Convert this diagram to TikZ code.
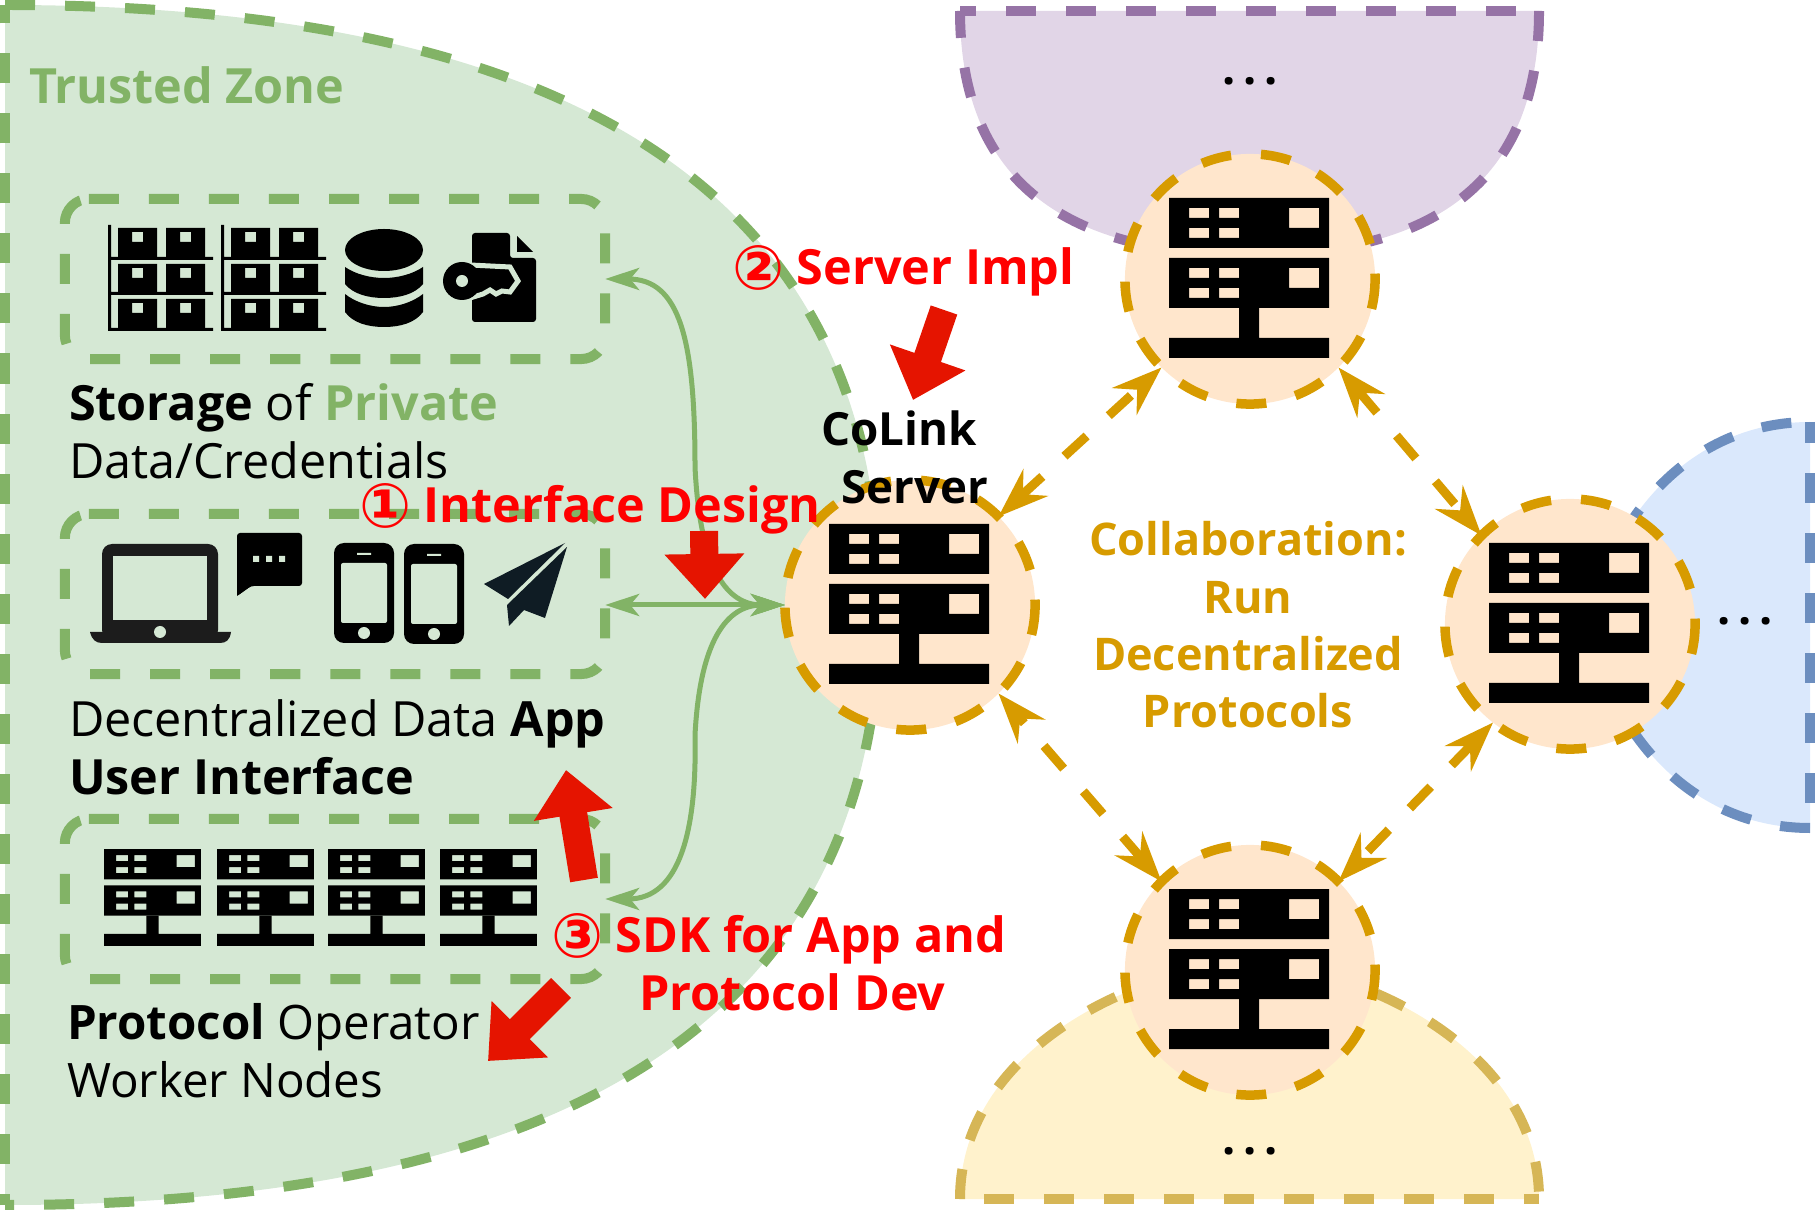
\documentclass[tikz,border=0pt]{standalone}
\usepackage{fontspec}
\setmainfont{Open Sans}
\newfontfamily\markfont{DejaVu Sans}
\usepackage{xcolor}
\usetikzlibrary{arrows.meta,positioning}
\definecolor{LinkGreen}{HTML}{82B366}
\definecolor{LinkGreenFill}{HTML}{D5E8D4}
\definecolor{LinkGold}{HTML}{D79B00}
\definecolor{LinkGoldFill}{HTML}{FFE6CC}
\definecolor{PeerPurple}{HTML}{9673A6}
\definecolor{PeerPurpleFill}{HTML}{E1D5E7}
\definecolor{PeerBlue}{HTML}{6C8EBF}
\definecolor{PeerBlueFill}{HTML}{DAE8FC}
\definecolor{PeerYellow}{HTML}{D6B656}
\definecolor{PeerYellowFill}{HTML}{FFF2CC}
\definecolor{PointerRed}{HTML}{E51400}
\definecolor{PlaneInk}{HTML}{0F1C24}
\definecolor{LaptopInk}{HTML}{1C1C1C}
\newcommand{\stepmark}[1]{\raisebox{-.05cm}{\markfont\fontsize{17.5}{17.5}\selectfont #1}}
\tikzset{
  dashline/.style={line width=.1cm,dash pattern=on .3cm off .3cm},
  zonebox/.style={minimum width=5.4cm,minimum height=1.6cm,inner sep=0,outer sep=0},
  boxedge/.style={LinkGreen,dashline,rounded corners=.24cm},
  serverball/.style={circle,fill=LinkGoldFill,draw=LinkGold,line width=.095cm,dash pattern=on .3cm off .3cm,dash phase=.246cm,minimum size=2.5cm,inner sep=0,outer sep=0},
  collab/.style={LinkGold,line width=.09cm,dash pattern=on .3cm off .3cm,{Stealth[length=.5cm,width=.36cm,inset=.17cm]}-{Stealth[length=.5cm,width=.36cm,inset=.17cm]}},
  applink/.style={LinkGreen,line width=.05cm,{Stealth[length=.34cm,width=.22cm,inset=.09cm]}-{Stealth[length=.34cm,width=.22cm,inset=.09cm]}},
  pointer/.style={PointerRed,line width=.28cm,-{Triangle[length=.45cm,width=.77cm]}},
  textline/.style={font=\fontsize{13.8}{16.5}\selectfont,align=left,inner sep=0,outer sep=0},
  boldline/.style={textline,font=\fontsize{13.8}{16.5}\selectfont\bfseries},
  redline/.style={boldline,red,anchor=west},
  dotline/.style={boldline,font=\fontsize{13.2}{16.5}\selectfont\bfseries},
  pics/servericon/.style={code={
    \fill[even odd rule] \foreach \y in {0,60} {
      (0,\y) rectangle ++(160,50)
      (20,\y+10) rectangle ++(20,10) (50,\y+10) rectangle ++(20,10)
      (20,\y+30) rectangle ++(20,10) (50,\y+30) rectangle ++(20,10)
      (120,\y+10) rectangle ++(30,20)};
    \fill (70,110) rectangle (90,140) (0,140) rectangle (160,160);
  }},
  pics/rackicon/.style={code={
    \fill (0,0) rectangle (3,106) (0,32) rectangle (105,35) (0,67) rectangle (105,70) (0,103) rectangle (105,106);
    \fill[even odd rule] \foreach \y in {3,39,74} {
      (10,\y) rectangle ++(39,29) (24,\y+4) rectangle ++(11,10)
      (58,\y) rectangle ++(39,29) (72,\y+4) rectangle ++(11,10)};
  }},
  pics/phoneicon/.style={code={
    \fill[rounded corners=.1cm] (0,0) rectangle (60,100);
    \fill[LinkGreenFill,rounded corners=.02cm] (7,20) rectangle (53,80);
    \fill[LinkGreenFill] (23,10) rectangle (37,12) (30,90) circle[radius=6];
  }}
}
\begin{document}
\begin{tikzpicture}[x=0.01cm,y=-0.01cm,>=Latex]
  \useasboundingbox (0,0) rectangle (1816,1210);
  % peers behind the servers
  \fill[PeerPurpleFill] (1539,11) .. controls (1539,174) and (1443,255) .. (1250,255) .. controls (1057,255) and (960,174) .. (960,11) -- cycle;
  \draw[PeerPurple,dashline] (1539,11) .. controls (1539,174) and (1443,255) .. (1250,255) .. controls (1057,255) and (960,174) .. (960,11);
  \draw[PeerPurple,dashline,dash phase=.14cm] (960,11) -- (1539,11);
  \fill[PeerYellowFill] (960,1199) .. controls (960,1042) and (1153,964) .. (1250,964) .. controls (1347,964) and (1539,1042) .. (1539,1199) -- cycle;
  \draw[PeerYellow,dashline] (960,1199) .. controls (960,1042) and (1153,964) .. (1250,964) .. controls (1347,964) and (1539,1042) .. (1539,1199);
  \draw[PeerYellow,dashline,dash phase=.15cm] (1539,1199) -- (960,1199);
  \fill[PeerBlueFill] (1810,828) .. controls (1667,828) and (1595,693) .. (1595,625) .. controls (1595,557) and (1667,422) .. (1810,422) -- cycle;
  \draw[PeerBlue,dashline] (1810,828) .. controls (1667,828) and (1595,693) .. (1595,625) .. controls (1595,557) and (1667,422) .. (1810,422);
  \draw[PeerBlue,dashline,dash phase=.09cm] (1810,422) -- (1810,828);
  % trusted zone
  \fill[LinkGreenFill] (5,5) .. controls (588,5) and (880,205) .. (880,605) .. controls (880,1005) and (588,1205) .. (5,1205) -- cycle;
  \draw[LinkGreen,dashline] (5,5) .. controls (588,5) and (880,205) .. (880,605) .. controls (880,1005) and (588,1205) .. (5,1205);
  \draw[LinkGreen,dashline,dash phase=.19cm] (5,1205) -- (5,5);
  \node[zonebox] (boxStorage) at (335,279) {};
  \node[zonebox] (boxApp) at (335,594) {};
  \node[zonebox] (boxWorker) at (335,899) {};
  \foreach \b in {boxStorage,boxApp,boxWorker}
    \draw[boxedge] ([xshift=.24cm]\b.north west) -| (\b.south east) -| (\b.north west) -- ([xshift=.24cm]\b.north west);
  \node[serverball] (serverL) at (910,605) {};
  \node[serverball] (serverT) at (1250,279) {};
  \node[serverball] (serverR) at (1570,624) {};
  \node[serverball] (serverB) at (1250,970) {};
  \draw[applink] (boxStorage.east) .. controls (680,279) and (695,340) .. (695,467) .. controls (700,570) and (727,605) .. (serverL.west);
  \draw[applink] (boxWorker.east) .. controls (680,899) and (697,830) .. (695,735) .. controls (700,640) and (727,605) .. (serverL.west);
  \draw[applink] (boxApp.east |- serverL.west) -- (serverL.west);
  \draw[collab] (serverL.45) -- (serverT.225);
  \draw[collab] (serverT.315) -- (serverR.135);
  \draw[collab] (serverR.232) -- (serverB.45);
  \draw[collab] (serverB.135) -- (serverL.315);
  \foreach \x/\y in {829/524,1169/198,1489/543,1169/889} \pic at (\x,\y) {servericon};
  \foreach \x in {104,217,328,440} \pic[scale=.606] at (\x,849) {servericon};
  % storage icons
  \pic at (108,225) {rackicon};
  \pic at (221,225) {rackicon};
  \fill (384,250) ellipse[x radius=39,y radius=21];
  \fill (345,267) .. controls (355,274) and (370,278) .. (384,278) .. controls (398,278) and (413,274) .. (423,267) -- (423,284) .. controls (415,294) and (400,298) .. (384,298) .. controls (368,298) and (353,294) .. (345,284) -- cycle;
  \fill (345,294) .. controls (355,302) and (370,307) .. (384,307) .. controls (398,307) and (413,302) .. (423,294) -- (423,312) .. controls (415,323) and (400,327) .. (384,327) .. controls (368,327) and (353,323) .. (345,312) -- cycle;
  \fill[rounded corners=.03cm] (472,233) -- (510,233) -- (510,258) -- (536,258) -- (536,322) -- (472,322) -- cycle;
  \fill (517,236) -- (533,252) -- (517,252) -- cycle;
  \filldraw[draw=LinkGreenFill,line width=.05cm,fill=black] (470,265) -- (510,267) -- (518,281) -- (510,292) -- (502,291) -- (496,294) -- (490,290) -- (483,294) -- (470,298) -- cycle;
  \fill (462,281) circle[radius=19];
  \fill[LinkGreenFill] (462,281) circle[radius=6];
  % app icons
  \fill[LaptopInk,rounded corners=.1cm] (102,640) -- (102,544) -- (218,544) -- (218,640) -- cycle;
  \fill[LinkGreenFill] (113,556) rectangle (207,620);
  \fill[LaptopInk] (90,632) -- (231,632) .. controls (230,640) and (226,643) .. (220,643) -- (102,643) .. controls (96,643) and (92,640) .. (90,632) -- cycle;
  \fill[LinkGreenFill] (160,632) circle[radius=6];
  \fill[rounded corners=.03cm] (237,596) -- (237,533) -- (302,533) -- (302,586) -- (251,586) -- cycle;
  \fill (237,590) -- (237,596) -- (251,586) -- cycle;
  \fill[LinkGreenFill] (253,556) rectangle ++(6,6) (266,556) rectangle ++(6,6) (279,556) rectangle ++(6,6);
  \pic at (334,543) {phoneicon};
  \pic at (404,544) {phoneicon};
  \fill[PlaneInk] (565,543) -- (508,599) -- (484,584) -- cycle;
  \fill[PlaneInk] (567,547) -- (545,618) -- (524,610) -- (509,626) -- (507,605) -- cycle;
  % text
  \node[boldline,LinkGreen,anchor=west] (nameZone) at (29,85) {Trusted Zone};
  \node[textline,anchor=west] (nameStorage) at (69,431) {\textbf{Storage} of \textcolor{LinkGreen}{\textbf{Private}}\\Data/Credentials};
  \node[textline,anchor=west] (nameApp) at (69,747) {Decentralized Data \textbf{App}\\\textbf{User Interface}};
  \node[textline,anchor=west,font=\fontsize{13.5}{16.5}\selectfont] (nameWorker) at (67,1051) {\textbf{Protocol} Operator\\Worker Nodes};
  \node[boldline,align=center,font=\fontsize{13}{16.5}\selectfont\bfseries] (nameServer) at (907,457) {CoLink\hspace*{.16cm}\\\hspace*{.16cm}Server};
  \node[boldline,LinkGold,align=center,font=\fontsize{12.8}{16.3}\selectfont\bfseries] (nameCollab) at (1248,625) {Collaboration:\\Run\\Decentralized\\Protocols};
  \node[redline] (stepDesign) at (359,509) {\stepmark{①} Interface Design};
  \node[redline] (stepImpl) at (732,271) {\stepmark{②} Server Impl};
  \node[redline] (stepSdk) at (551,962) {\stepmark{③} SDK for App and\\\hspace*{.88cm}Protocol Dev};
  \node[dotline] (dotsT) at (1250,81) {.\hspace{.08cm}.\hspace{.08cm}.};
  \node[dotline] (dotsR) at (1745,621) {.\hspace{.08cm}.\hspace{.08cm}.};
  \node[dotline] (dotsB) at (1250,1151) {.\hspace{.08cm}.\hspace{.08cm}.};
  % numbered pointers
  \coordinate (tailDesign) at (704,531);
  \coordinate (tipDesign) at (705,599);
  \coordinate (tailImpl) at (944,310);
  \coordinate (tipImpl) at (913,400);
  \coordinate (tailApp) at (584,880);
  \coordinate (tipApp) at (566,770);
  \coordinate (tailWorker) at (561,988);
  \coordinate (tipWorker) at (488,1061);
  \draw[pointer] (tailDesign) -- (tipDesign);
  \draw[pointer] (tailImpl) -- (tipImpl);
  \draw[pointer] (tailApp) -- (tipApp);
  \draw[pointer] (tailWorker) -- (tipWorker);
\end{tikzpicture}
\end{document}
